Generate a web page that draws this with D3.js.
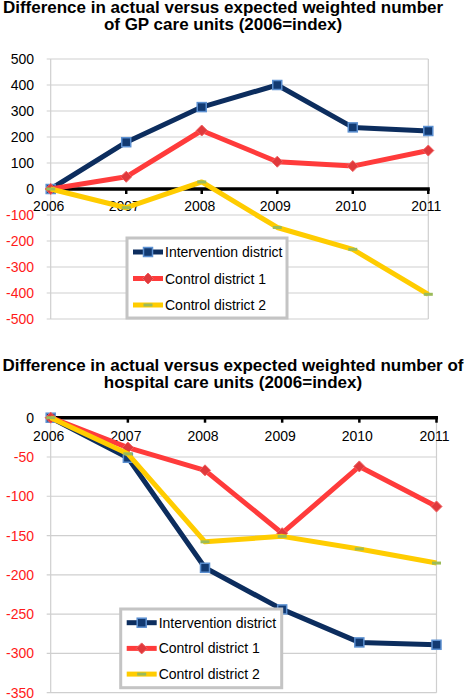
<!DOCTYPE html>
<html><head><meta charset="utf-8">
<script src="https://cdn.jsdelivr.net/npm/d3@7"></script>
<style>
html,body{margin:0;padding:0;background:#fff;}
svg{display:block;font-family:"Liberation Sans",Arial,Helvetica,sans-serif;}
</style></head><body>
<svg id="chart" width="466" height="698"></svg>
<script>
const years = [2006, 2007, 2008, 2009, 2010, 2011];
const seriesNames = ["Intervention district", "Control district 1", "Control district 2"];

const gpIntervention = [0, 180, 315, 400, 237, 223];
const gpControl1 = [0, 47, 225, 105, 88, 148];
const gpControl2 = [0, -72, 27, -148, -232, -405];
const gpTicks = [500, 400, 300, 200, 100, 0, -100, -200, -300, -400, -500];

const hospIntervention = [0, -51, -191, -244, -286, -289];
const hospControl1 = [0, -38, -67, -147, -62, -113];
const hospControl2 = [0, -46, -158, -151, -167, -185];
const hospTicks = [0, -50, -100, -150, -200, -250, -300, -350];

const gpTitle = ["Difference in actual versus expected weighted number", "of GP care units (2006=index)"];
const hospTitle = ["Difference in actual versus expected weighted number of", "hospital care units (2006=index)"];

const colors = ["#0c2d5e", "#ff3b3b", "#ffcc00"];
const svg = d3.select("#chart");

function drawMarker(g, i, x, y) {
  if (i === 0) {
    g.append("rect").attr("x", x - 4.5).attr("y", y - 4.5).attr("width", 9).attr("height", 9)
      .attr("fill", "#123a72").attr("stroke", "#5b8fd0").attr("stroke-width", 1.5);
  } else if (i === 1) {
    g.append("path").attr("d", `M${x},${y-5.5}L${x+5.5},${y}L${x},${y+5.5}L${x-5.5},${y}Z`)
      .attr("fill", "#e0393c").attr("stroke", "#f06060").attr("stroke-width", 1);
  } else {
    g.append("rect").attr("x", x - 4.5).attr("y", y - 1.5).attr("width", 9).attr("height", 3)
      .attr("fill", "#9bbb59");
  }
}

function drawChart(cfg) {
  const g = svg.append("g");
  const x = d3.scalePoint().domain(years).range([cfg.x0, cfg.x1]);
  const y = d3.scaleLinear().domain(cfg.domain).range(cfg.yRange);

  // title
  cfg.title.forEach((t, k) => {
    g.append("text").attr("x", cfg.titleX).attr("y", cfg.titleY + k * 17)
      .attr("text-anchor", "middle").attr("font-weight", "bold").attr("font-size", 17)
      .attr("fill", "#000").text(t);
  });

  // gridlines
  cfg.ticks.forEach(t => {
    if (t === 0) return;
    g.append("line").attr("x1", cfg.x0 - 4).attr("x2", cfg.x1).attr("y1", y(t)).attr("y2", y(t))
      .attr("stroke", "#cfcfcf").attr("stroke-width", 1.2);
  });
  // vertical borders
  [cfg.x0, cfg.x1].forEach(xx => {
    g.append("line").attr("x1", xx).attr("x2", xx).attr("y1", y(cfg.domain[1])).attr("y2", y(cfg.domain[0]))
      .attr("stroke", "#cfcfcf").attr("stroke-width", 1.2);
  });

  // y labels
  cfg.ticks.forEach(t => {
    g.append("text").attr("x", 34).attr("y", y(t)).attr("dy", "0.36em")
      .attr("text-anchor", "end").attr("font-size", 14)
      .attr("fill", t < 0 ? "#ff1a1a" : "#000").text(t);
  });

  // zero axis
  g.append("line").attr("x1", cfg.x0).attr("x2", cfg.x1 + 1.5).attr("y1", y(0)).attr("y2", y(0))
    .attr("stroke", "#000").attr("stroke-width", 3.5);
  years.forEach(yr => {
    g.append("line").attr("x1", x(yr)).attr("x2", x(yr)).attr("y1", y(0)).attr("y2", y(0) + 5)
      .attr("stroke", "#000").attr("stroke-width", 2.5);
  });
  // x labels
  years.forEach(yr => {
    g.append("text").attr("x", x(yr) - 2).attr("y", y(0) + cfg.labelDy)
      .attr("text-anchor", "middle").attr("font-size", 14).attr("fill", "#000").text(yr);
  });

  // series
  const line = d3.line().x((d, i) => x(years[i])).y(d => y(d));
  cfg.series.forEach((s, i) => {
    const sg = g.append("g");
    sg.append("path").attr("d", line(s)).attr("fill", "none").attr("stroke", colors[i])
      .attr("stroke-width", 5).attr("stroke-linejoin", "round");
    s.forEach((v, k) => drawMarker(sg, i, x(years[k]), y(v)));
  });

  // legend
  const L = cfg.legend;
  g.append("rect").attr("x", L.x).attr("y", L.y).attr("width", L.w).attr("height", L.h)
    .attr("fill", "#fff").attr("stroke", "#c4c4c4").attr("stroke-width", 3);
  seriesNames.forEach((n, i) => {
    const cy = L.y + L.first + i * L.step;
    g.append("line").attr("x1", L.x + 6).attr("x2", L.x + 36).attr("y1", cy).attr("y2", cy)
      .attr("stroke", colors[i]).attr("stroke-width", 5);
    const mg = g.append("g");
    drawMarker(mg, i, L.x + 21, cy);
    g.append("text").attr("x", L.x + 38).attr("y", cy).attr("dy", "0.36em")
      .attr("font-size", 14).attr("fill", "#000").text(n);
  });
}

drawChart({
  title: gpTitle, titleX: 223, titleY: 13,
  x0: 50.7, x1: 428.3, domain: [-500, 500], yRange: [319, 59],
  ticks: gpTicks, labelDy: 22,
  series: [gpIntervention, gpControl1, gpControl2],
  legend: {x: 127, y: 238, w: 160, h: 80, first: 14, step: 26.5}
});

drawChart({
  title: hospTitle, titleX: 233, titleY: 370.5,
  x0: 50.7, x1: 436.5, domain: [-350, 0], yRange: [692.7, 417.7],
  ticks: hospTicks, labelDy: 23,
  series: [hospIntervention, hospControl1, hospControl2],
  legend: {x: 120.7, y: 609, w: 161, h: 78.7, first: 13.7, step: 25.7}
});
</script>
</body></html>
